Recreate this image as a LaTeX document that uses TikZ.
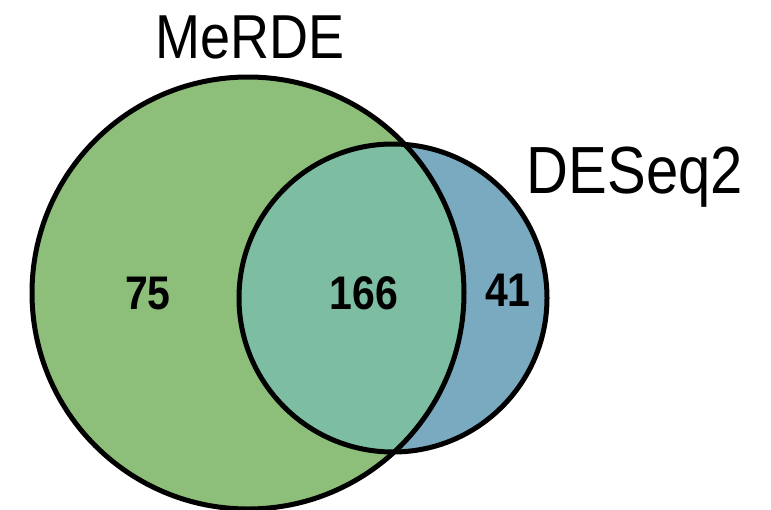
\documentclass[tikz,border=0pt]{standalone}
\usepackage{graphicx}
\usepackage{fontspec}
\setmainfont{Liberation Sans}
\newcommand{\tallt}[1]{\scalebox{1}[1.15]{#1}}
\begin{document}
\begin{tikzpicture}[x=1pt,y=-1pt,
  outline/.style={draw=black,line width=5pt},
  setlabel/.style={font=\fontsize{54}{60}\selectfont,inner sep=0pt},
  setlabelb/.style={font=\fontsize{58}{64}\selectfont,inner sep=0pt},
  countlabel/.style={font=\bfseries\fontsize{41}{48}\selectfont,inner sep=0pt}]
\definecolor{mgreen}{RGB}{141,191,122}
\definecolor{dblue}{RGB}{122,170,192}
\definecolor{both}{RGB}{125,190,163}
\useasboundingbox (0,0) rectangle (771,509);
\begin{scope}
\clip (0,0) rectangle (771,509);
\coordinate (cA) at (248,293);
\coordinate (cB) at (393,298);
\fill[mgreen] (cA) circle[radius=216];
\fill[dblue] (cB) circle[radius=154];
\begin{scope}
\clip (cA) circle[radius=216];
\fill[both] (cB) circle[radius=154];
\end{scope}
\draw[outline] (cA) circle[radius=216];
\draw[outline] (cB) circle[radius=154];
\end{scope}
\node[setlabel] (lA) at (250,37) {\tallt{MeRDE}};
\node[setlabelb] (lB) at (635,177) {\tallt{DESeq2}};
\node[countlabel] (nA) at (148,294) {\tallt{75}};
\node[countlabel] (nAB) at (364,293) {\tallt{166}};
\node[countlabel] (nB) at (508,290) {\tallt{41}};
\end{tikzpicture}
\end{document}
